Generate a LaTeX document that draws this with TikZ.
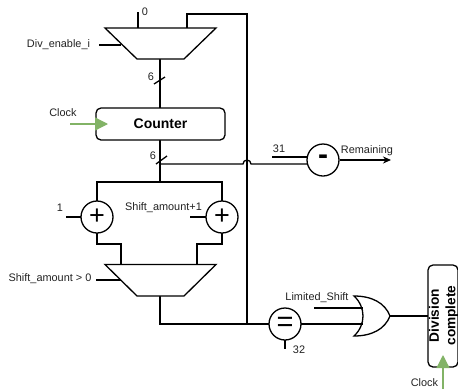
\documentclass[tikz,border=0pt]{standalone}
\usepackage{fontspec}
\setmainfont{Liberation Sans}
\usetikzlibrary{arrows.meta}
\definecolor{clockgreen}{HTML}{82B366}
\definecolor{ink}{HTML}{222222}
\tikzset{
  wire/.style={line width=1.3pt,draw=black},
  lab/.style={font=\fontsize{10.9}{12}\selectfont,text=ink,inner sep=0pt},
  muxshape/.style={draw,line width=1.3pt,fill=white,line join=miter},
  ballop/.style={draw,line width=1.3pt,circle,minimum size=32pt,inner sep=0pt,fill=white},
  boxed/.style={draw,line width=1.3pt,rounded corners=5pt,fill=white,inner sep=0pt,font=\fontsize{14}{17}\selectfont\bfseries},
  clk/.style={draw=clockgreen,fill=clockgreen,line width=1.3pt,-{Triangle[length=13pt,width=13pt]}}
}
\begin{document}
\begin{tikzpicture}[x=1pt,y=-1pt]
\useasboundingbox (0,0) rectangle (458,389);
% coordinates
\coordinate (in0) at (138,12);
\coordinate (m1a) at (138,28);
\coordinate (m1b) at (187,28);
\coordinate (m1s) at (160,59);
\coordinate (tr) at (247,14);
\coordinate (tl) at (187,14);
\coordinate (en1) at (99,45);
\coordinate (en1e) at (121,45);
\coordinate (m2a) at (121,264.5);
\coordinate (m2b) at (197,264.5);
\coordinate (m2s) at (160,296);
\coordinate (bend1) at (121,244);
\coordinate (bend2) at (197,244);
\coordinate (bl) at (160,324);
\coordinate (jn) at (247,324);
\coordinate (tk1a) at (154,84);
\coordinate (tk1b) at (165,77);
\coordinate (tk2a) at (156,164);
\coordinate (tk2b) at (167,156);
\coordinate (split) at (160,164);
\coordinate (boxtop) at (160,182);
\coordinate (boxl) at (97,182);
\coordinate (boxr) at (222,182);
\coordinate (hopa) at (243,164);
\coordinate (s31) at (272,157);
\coordinate (e31) at (308,157);
\coordinate (s1) at (66,217);
\coordinate (ssa) at (190,217);
\coordinate (ensh) at (96,280);
\coordinate (enshe) at (121,280);
\coordinate (lims) at (314,308);
\coordinate (lime) at (363,308);
\coordinate (gatein) at (363,324);
\coordinate (gateout) at (390,316);
\coordinate (st32) at (285,349);
\coordinate (remend) at (391,160);
\coordinate (clk1) at (70,124);
\coordinate (clk1e) at (108,124);
\coordinate (clk2) at (443,389);
\coordinate (clk2e) at (443,355);
% wires beneath shapes
\draw[wire] (in0) -- (m1a);
\draw[wire] (m1b) -- (tl) -- (tr) -- (jn);
\draw[wire] (m1s) -- (boxtop);
\draw[wire] (tk1a) -- (tk1b);
\draw[wire] (tk2a) -- (tk2b);
\draw[wire] (s1) -- (97,217);
\draw[wire] (ssa) -- (222,217);
\draw[wire] (97,217) -- (boxl) -- (boxr) -- (222,217);
\draw[wire] (97,217) |- (bend1) -- (m2a);
\draw[wire] (222,217) |- (bend2) -- (m2b);
\draw[wire] (m2s) -- (bl) -- (285,324);
\draw[wire] (split) -- (hopa) arc[start angle=180,end angle=360,radius=4] -- (323,164);
\draw[wire] (s31) -- (e31);
\draw[wire] (285,324) -- (st32);
\draw[wire] (285,324) -- (gatein);
\draw[wire] (lims) -- (lime);
\draw[wire] (gateout) -- (428,316);
% mux
\draw[muxshape] (105,28) -- (216,28) -- (184,59) -- (137,59) -- cycle;
\draw[muxshape] (105,264.5) -- (216,264.5) -- (184,296) -- (137,296) -- cycle;
\draw[wire] (en1) -- (en1e);
\draw[wire] (ensh) -- (enshe);
% boxes and operators
\node[boxed,minimum width=129pt,minimum height=32pt] (counter) at (160.5,124) {Counter};
\node[boxed,rotate=90,minimum width=102pt,minimum height=30pt] (done) at (443,316) {};
\node[rotate=90,align=center,inner sep=0pt,font=\fontsize{13.7}{16.5}\selectfont\bfseries] (donetext) at (443.5,315.5) {Division\\complete};
\node[ballop] (add1) at (97,217) {\raisebox{-3pt}{\fontsize{27}{27}\selectfont +}};
\node[ballop] (add2) at (222,217) {\raisebox{-3pt}{\fontsize{27}{27}\selectfont +}};
\node[ballop] (sub) at (323,160) {\raisebox{-0.5pt}{\fontsize{30}{30}\selectfont\bfseries -}};
\node[ballop] (eq) at (285,324) {\raisebox{-3pt}{\fontsize{29}{29}\selectfont =}};
\draw[wire,-{Stealth[length=8pt,width=7pt]}] (sub.east) -- (remend);
\draw[wire,fill=white] (354,296) .. controls (372,296) and (385,303) .. (gateout) .. controls (385,329) and (372,336) .. (354,336) .. controls (366,325) and (366,307) .. (354,296) -- cycle;
\draw[wire] (eq.east) -- (gatein);
\draw[wire] (lims) -- (lime);
\draw[clk] (clk1) -- (clk1e);
\draw[clk] (clk2) -- (clk2e);
% labels
\node[lab] (t0) at (145,12) {0};
\node[lab] (tdiv) at (58.5,45) {Div\_enable\_i};
\node[lab] (t61) at (151,77) {6};
\node[lab] (tclk1) at (63,113) {Clock};
\node[lab] (t62) at (153,156) {6};
\node[lab] (t31) at (279,149) {31};
\node[lab] (trem) at (367,151) {Remaining};
\node[lab] (t1) at (60,208) {1};
\node[lab] (tsa) at (163.5,208) {Shift\_amount+1};
\node[lab] (tsg) at (50,279) {Shift\_amount > 0};
\node[lab] (tlim) at (317,298) {Limited\_Shift};
\node[lab] (t32) at (299,350) {32};
\node[lab] (tclk2) at (424.5,383) {Clock};
\end{tikzpicture}
\end{document}
